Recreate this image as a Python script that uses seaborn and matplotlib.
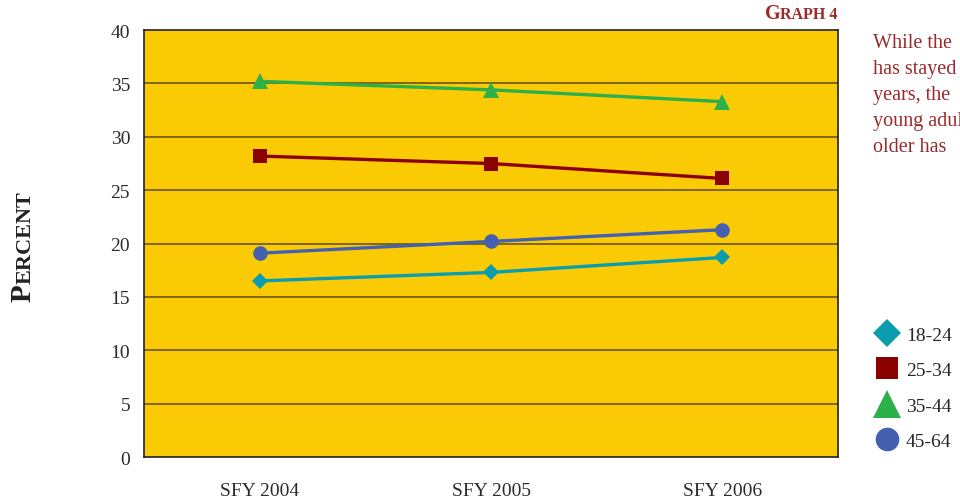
import pandas as pd
import seaborn as sns
import matplotlib.pyplot as plt
from matplotlib.lines import Line2D

# values
years = ['SFY 2004', 'SFY 2005', 'SFY 2006']
age_18_24 = [16.5, 17.3, 18.7]
age_25_34 = [28.2, 27.5, 26.1]
age_35_44 = [35.2, 34.4, 33.3]
age_45_64 = [19.1, 20.2, 21.3]
groups = ['18-24', '25-34', '35-44', '45-64']

colors = {'18-24': '#0B9CAD', '25-34': '#8B0000', '35-44': '#2BB04A', '45-64': '#4460AE'}
markers = {'18-24': 'D', '25-34': 's', '35-44': '^', '45-64': 'o'}
msizes = {'18-24': 8, '25-34': 10, '35-44': 11.5, '45-64': 10.5}

df = pd.DataFrame({'year': years * 4,
                   'x': list(range(len(years))) * 4,
                   'percent': age_18_24 + age_25_34 + age_35_44 + age_45_64,
                   'group': [g for g in groups for _ in years]})

sns.set_style('white')
plt.rcParams['font.family'] = ['Liberation Serif', 'DejaVu Serif']

fig = plt.figure(figsize=(9.6, 5.02), dpi=100)
ax = fig.add_axes([0.15, 0.0876, 0.723, 0.8504])
ax.set_facecolor('#FACB05')

for g in groups:
    sub = df[df['group'] == g]
    sns.lineplot(data=sub, x='x', y='percent', ax=ax, color=colors[g],
                 linewidth=2.4, marker=markers[g], markersize=msizes[g],
                 markeredgewidth=0, zorder=4, legend=False)

ax.set_xlim(-0.5, 2.5)
ax.set_ylim(0, 40)
ax.set_yticks(range(0, 41, 5))
ax.set_xticks(range(len(years)))
ax.set_xticklabels(years)
ax.tick_params(axis='both', length=0, labelsize=14, colors='#2a2a2a')
ax.tick_params(axis='x', pad=18)
ax.tick_params(axis='y', pad=10)
for y in range(5, 40, 5):
    ax.axhline(y, color='#6B5515', linewidth=1.2, zorder=1)
for s in ax.spines.values():
    s.set_color('#222222')
    s.set_linewidth(1.2)
ax.set_xlabel('')
ax.set_ylabel('')

# small-caps style labels
fig.text(0.0315, 0.398, 'P', rotation=90, rotation_mode='anchor', fontsize=21,
         fontweight='bold', color='#222222', ha='left', va='baseline')
fig.text(0.0315, 0.434, 'ERCENT', rotation=90, rotation_mode='anchor', fontsize=16,
         fontweight='bold', color='#222222', ha='left', va='baseline')
fig.text(0.797, 0.962, 'G', fontsize=14.5, fontweight='bold', color='#9B2A2A',
         ha='left', va='baseline')
fig.text(0.8125, 0.962, 'RAPH 4', fontsize=11.5, fontweight='bold', color='#9B2A2A',
         ha='left', va='baseline')

# side note, runs off the right edge as in the source page
note = ['While the', 'has stayed', 'years, the', 'young adults', 'older has']
for i, line in enumerate(note):
    fig.text(0.909, 0.904 - i * 0.0518, line, fontsize=14.5, color='#9B2A2A',
             ha='left', va='baseline')

handles = [Line2D([], [], linestyle='none', marker=markers[g], color=colors[g],
                  markersize=m, markeredgewidth=0)
           for g, m in zip(groups, [14.3, 16.5, 20, 17])]
fig.legend(handles, groups, loc='upper left', bbox_to_anchor=(0.898, 0.368),
           frameon=False, fontsize=14, handletextpad=0.15, labelspacing=0.92,
           borderpad=0, handlelength=1.6)

fig.savefig('out.png', dpi=100)
